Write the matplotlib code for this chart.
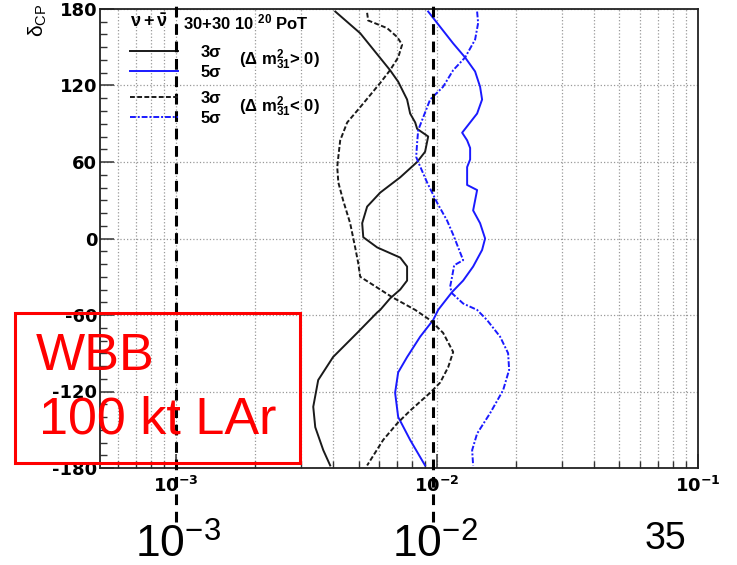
import matplotlib
matplotlib.use("Agg")
import matplotlib.pyplot as plt
import matplotlib.ticker as mticker
from matplotlib.patches import Rectangle
import numpy as np

plt.rcParams['font.family'] = ['Liberation Sans', 'DejaVu Sans']
plt.rcParams['mathtext.fontset'] = 'custom'
plt.rcParams['mathtext.rm'] = 'Liberation Sans'
plt.rcParams['mathtext.it'] = 'Liberation Sans:italic'
plt.rcParams['mathtext.bf'] = 'DejaVu Sans:bold'
plt.rcParams['mathtext.default'] = 'regular'

# sensitivity curves: delta_CP (deg) vs sin^2(2theta13)
# 3 sigma, dm31^2 > 0 (black solid)
d_3s_pos = [178, 161, 132, 123, 109, 98, 91, 86, 80, 68, 60, 48, 36, 25, 12, 1, -7, -15, -22,
            -33, -40, -47, -56, -58, -74, -93, -111, -132, -148, -166, -178]
s_3s_pos = [4.07e-3, 5.07e-3, 6.60e-3, 7.09e-3, 7.67e-3, 7.88e-3, 8.24e-3, 8.38e-3, 9.24e-3,
            8.99e-3, 8.38e-3, 7.22e-3, 6.05e-3, 5.39e-3, 5.16e-3, 5.21e-3, 5.89e-3, 7.22e-3,
            7.67e-3, 7.67e-3, 7.22e-3, 6.60e-3, 6.05e-3, 5.89e-3, 4.94e-3, 3.99e-3, 3.50e-3,
            3.35e-3, 3.41e-3, 3.66e-3, 3.89e-3]

# 3 sigma, dm31^2 < 0 (black dashed)
d_3s_neg = [177, 171, 165, 158, 152, 142, 132, 122, 103, 91, 77, 64, 56, 44, 30, 12, -7, -19,
            -30, -35, -46, -56, -64, -74, -89, -101, -113, -121, -135, -145, -158, -178]
s_3s_neg = [5.39e-3, 5.44e-3, 6.43e-3, 7.03e-3, 7.34e-3, 7.09e-3, 6.60e-3, 6.05e-3, 5.07e-3,
            4.52e-3, 4.25e-3, 4.18e-3, 4.14e-3, 4.18e-3, 4.36e-3, 4.64e-3, 4.85e-3, 4.98e-3,
            5.07e-3, 5.54e-3, 6.72e-3, 8.24e-3, 9.40e-3, 1.054e-2, 1.152e-2, 1.102e-2,
            1.027e-2, 9.40e-3, 7.88e-3, 7.03e-3, 6.21e-3, 5.39e-3]

# 5 sigma, dm31^2 > 0 (blue solid)
d_5s_pos = [178, 166, 153, 142, 131, 119, 109, 98, 91, 83, 77, 71, 62, 56, 42, 38, 22, 12, 0,
            -9, -22, -33, -42, -51, -56, -64, -77, -93, -105, -121, -140, -158, -178]
s_5s_pos = [9.24e-3, 1.027e-2, 1.152e-2, 1.280e-2, 1.398e-2, 1.461e-2, 1.487e-2, 1.423e-2,
            1.338e-2, 1.247e-2, 1.303e-2, 1.338e-2, 1.338e-2, 1.303e-2, 1.303e-2, 1.423e-2,
            1.374e-2, 1.461e-2, 1.527e-2, 1.487e-2, 1.374e-2, 1.258e-2, 1.141e-2, 1.054e-2,
            1.009e-2, 9.65e-3, 8.61e-3, 7.67e-3, 7.09e-3, 6.90e-3, 7.09e-3, 7.88e-3, 8.99e-3]

# 5 sigma, dm31^2 < 0 (blue dashed)
d_5s_neg = [178, 169, 156, 142, 132, 119, 109, 95, 85, 75, 64, 60, 44, 28, 14, 3, -7, -17,
            -21, -30, -38, -43, -51, -56, -64, -77, -90, -103, -119, -137, -153, -166, -178]
s_5s_neg = [1.423e-2, 1.436e-2, 1.398e-2, 1.280e-2, 1.152e-2, 1.054e-2, 9.40e-3, 8.84e-3,
            8.46e-3, 8.38e-3, 8.31e-3, 8.46e-3, 9.15e-3, 1.0e-2, 1.092e-2, 1.152e-2, 1.204e-2,
            1.258e-2, 1.162e-2, 1.141e-2, 1.121e-2, 1.141e-2, 1.258e-2, 1.423e-2, 1.554e-2,
            1.743e-2, 1.871e-2, 1.888e-2, 1.790e-2, 1.596e-2, 1.423e-2, 1.362e-2, 1.374e-2]

y_ticks = [-180, -120, -60, 0, 60, 120, 180]
y_ticklabels = ['-180', '-120', '-60', '0', '60', '120', '180']
x_ticks = [1e-3, 1e-2, 1e-1]
x_ticklabels = [r'$\mathbf{10^{-3}}$', r'$\mathbf{10^{-2}}$', r'$\mathbf{10^{-1}}$']
overlay_x = [1e-3, 9.6e-3]   # hand-drawn dashed guide lines
overlay_labels = [r'$10^{-3}$', r'$10^{-2}$']

fig = plt.figure(figsize=(7.37, 5.65), dpi=100)
ax = fig.add_axes([100/737, 97/565, 598/737, 459/565])
ax.set_xscale('log')
ax.set_xlim(5.1e-4, 1e-1)
ax.set_ylim(-180, 180)

blue = '#1a1aff'
l1, = ax.plot(s_3s_pos, d_3s_pos, color='#1a1a1a', lw=1.4)
l2, = ax.plot(s_5s_pos, d_5s_pos, color=blue, lw=1.4)
l3, = ax.plot(s_3s_neg, d_3s_neg, color='#1a1a1a', lw=1.4, linestyle=(0, (2.5, 1.2)))
l4, = ax.plot(s_5s_neg, d_5s_neg, color=blue, lw=1.4, linestyle=(0, (3, 1, 1, 1)))

# ticks and grid
ax.set_yticks(y_ticks)
ax.set_yticklabels(y_ticklabels, fontsize=13, fontweight='bold', family='DejaVu Sans')
ax.yaxis.set_minor_locator(mticker.MultipleLocator(10))
ax.set_xticks(x_ticks)
ax.set_xticklabels(x_ticklabels, fontsize=13)
ax.xaxis.set_minor_locator(mticker.LogLocator(base=10, subs=np.arange(2, 10)))
ax.xaxis.set_minor_formatter(mticker.NullFormatter())
ax.tick_params(axis='both', which='major', direction='in', length=10, width=1.1, color='#333333')
ax.tick_params(axis='both', which='minor', direction='in', length=5, width=1.0, color='#333333')
ax.tick_params(axis='y', pad=2)
ax.tick_params(axis='x', pad=6)
ax.grid(True, which='major', axis='both', color='#999999', linestyle=':', lw=0.9)
ax.grid(True, which='minor', axis='x', color='#999999', linestyle=':', lw=0.9)
for sp in ax.spines.values():
    sp.set_linewidth(1.3)
    sp.set_color('#222222')

# y label
fig.text(27/737, 1 - 4/565, r'$\delta_{CP}$', rotation=90, fontsize=15,
         ha='left', va='top')

# legend
kw = dict(frameon=False, handlelength=2.9, handletextpad=1.35,
          labelspacing=0.3, borderpad=0, borderaxespad=0, prop={'weight': 'bold', 'size': 12})
leg1 = ax.legend([l1, l2], ['3σ', '5σ'], loc='upper left',
                 bbox_to_anchor=(0.05, 1 - 36/459), **kw)
ax.add_artist(leg1)
ax.legend([l3, l4], ['3σ', '5σ'], loc='upper left',
          bbox_to_anchor=(0.05, 1 - 82/459), **kw)
ax.text(0.05, 1 - 13/459, r'$\nu + \bar{\nu}$', transform=ax.transAxes, fontsize=13,
        ha='left', va='center', fontweight='bold')
ax.text(0.138, 1 - 13/459, r'30+30 10 $^{20}$ PoT', transform=ax.transAxes, fontsize=12,
        ha='left', va='center', fontweight='bold')
ax.text(0.233, 1 - 51/459, r'($\Delta$ m$^{2}_{31}$> 0)', transform=ax.transAxes, fontsize=12,
        ha='left', va='center', fontweight='bold')
ax.text(0.233, 1 - 98/459, r'($\Delta$ m$^{2}_{31}$< 0)', transform=ax.transAxes, fontsize=12,
        ha='left', va='center', fontweight='bold')

# dashed overlay lines reaching beyond the frame
trans = ax.get_xaxis_transform()
for xv in overlay_x:
    ax.plot([xv, xv], [-0.118, 1.02], transform=trans, color='black', lw=2.2,
            linestyle=(0, (3.5, 2.2)), clip_on=False, zorder=5)

# big annotation labels
fig.text(135/737, 1 - 558/565, overlay_labels[0], fontsize=32, ha='left', va='baseline')
fig.text(392/737, 1 - 558/565, overlay_labels[1], fontsize=32, ha='left', va='baseline')
fig.text(645/737, 1 - 549/565, '35', fontsize=27, ha='left', va='baseline')

# red box
fig.patches.append(Rectangle((15/737, 1 - 463/565), 285/737, 150/565, transform=fig.transFigure,
                             fill=False, edgecolor='red', lw=2.2, zorder=6))
fig.text(36/737, 1 - 357/565, 'WBB', fontsize=37.5, color='red', ha='left', va='center')
fig.text(39/737, 1 - 420/565, '100 kt LAr', fontsize=37.5, color='red', ha='left', va='center')

fig.savefig('out.png', dpi=100)
